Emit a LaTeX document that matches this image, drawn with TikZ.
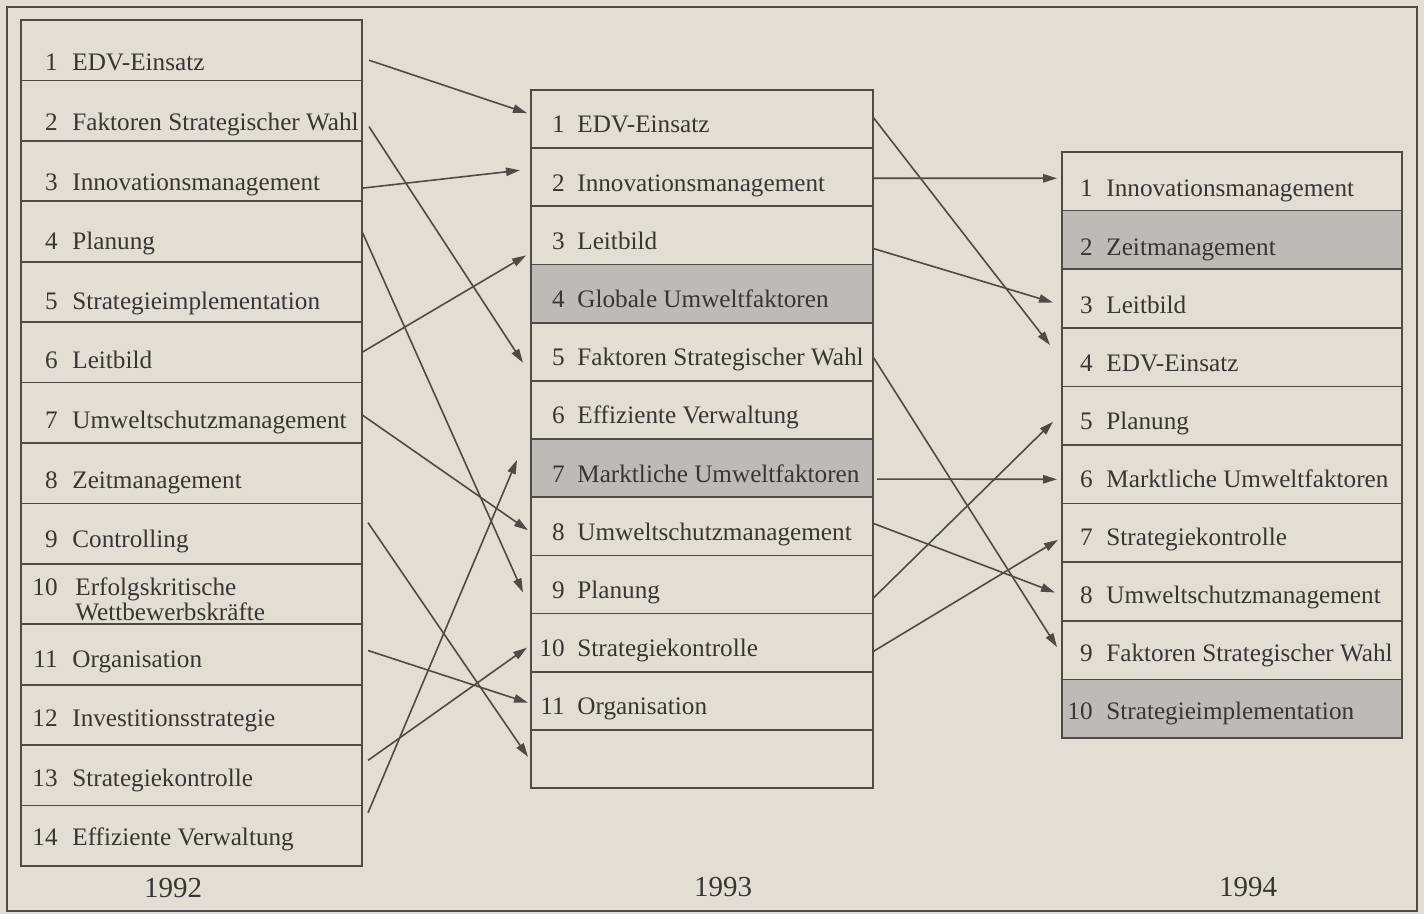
\documentclass[tikz,border=0pt]{standalone}
\usepackage{fontspec}
\setmainfont{Liberation Serif}
\usetikzlibrary{arrows.meta, calc}
\definecolor{paper}{HTML}{E1DED3}
\definecolor{ink}{HTML}{4E4B46}
\definecolor{shade}{HTML}{BDBBB5}
\definecolor{print}{HTML}{383633}
\tikzstyle{arrow} = [line width=0.8pt, draw=ink, -{Triangle[length=7pt,width=4.2pt]}]
\tikzstyle{rowbox} = [rectangle, draw=ink, line width=0.85pt, inner sep=0pt, outer sep=0pt]
\tikzstyle{numtext} = [anchor=base east, inner sep=0pt, text=print, font=\fontsize{12.6}{13}\selectfont]
\tikzstyle{itemtext} = [anchor=base west, inner sep=0pt, text=print, font=\fontsize{12.6}{13}\selectfont]
\tikzstyle{yearlabel} = [inner sep=0pt, text=print, font=\fontsize{14.5}{16}\selectfont]

\begin{document}
\begin{tikzpicture}[x=0.5pt, y=-0.5pt]

\useasboundingbox (0,0) rectangle (1424,914);
\fill [paper] (0,0) rectangle (1424,914);
\draw [ink, line width=0.85pt] (7,7) rectangle (1417,911);

% 1992
\foreach \i in {1,...,14}
  \node (old\i) [rowbox, minimum width=170.5pt, minimum height=30.215pt] at (191.5, {20+60.43*(\i-0.5)}) {};
\foreach \i/\txt in {1/EDV-Einsatz, 2/Faktoren Strategischer Wahl, 3/Innovationsmanagement, 4/Planung, 5/Strategieimplementation, 6/Leitbild, 7/Umweltschutzmanagement, 8/Zeitmanagement, 9/Controlling, 11/Organisation, 12/Investitionsstrategie, 13/Strategiekontrolle, 14/Effiziente Verwaltung} {
  \node (oldnum\i) [numtext] at (58, {71+59.6*(\i-1)}) {\i};
  \node (oldtxt\i) [itemtext] at (72, {71+59.6*(\i-1)}) {\txt};
}
\node (oldnum10) [numtext] at (58,595) {10};
\node (oldtxt10) [itemtext] at (75,595) {Erfolgskritische};
\node (oldtxt10b) [itemtext] at (75,620) {Wettbewerbskräfte};

% 1993
\foreach \i/\f in {1/paper, 2/paper, 3/paper, 4/shade, 5/paper, 6/paper, 7/shade, 8/paper, 9/paper, 10/paper, 11/paper, 12/paper}
  \node (mid\i) [rowbox, fill=\f, minimum width=171pt, minimum height=29.085pt] at (702, {90+58.17*(\i-0.5)}) {};
\foreach \i/\txt in {1/EDV-Einsatz, 2/Innovationsmanagement, 3/Leitbild, 4/Globale Umweltfaktoren, 5/Faktoren Strategischer Wahl, 6/Effiziente Verwaltung, 7/Marktliche Umweltfaktoren, 8/Umweltschutzmanagement, 9/Planung, 10/Strategiekontrolle, 11/Organisation} {
  \node (midnum\i) [numtext] at (565, {133+58.17*(\i-1)}) {\i};
  \node (midtxt\i) [itemtext] at (577, {133+58.17*(\i-1)}) {\txt};
}

% 1994
\foreach \i/\f in {1/paper, 2/shade, 3/paper, 4/paper, 5/paper, 6/paper, 7/paper, 8/paper, 9/paper, 10/shade}
  \node (new\i) [rowbox, fill=\f, minimum width=170pt, minimum height=29.3pt] at (1232, {152+58.6*(\i-0.5)}) {};
\foreach \i/\txt in {1/Innovationsmanagement, 2/Zeitmanagement, 3/Leitbild, 4/EDV-Einsatz, 5/Planung, 6/Marktliche Umweltfaktoren, 7/Strategiekontrolle, 8/Umweltschutzmanagement, 9/Faktoren Strategischer Wahl, 10/Strategieimplementation} {
  \node (newnum\i) [numtext] at (1093, {197+58.1*(\i-1)}) {\i};
  \node (newtxt\i) [itemtext] at (1106, {197+58.1*(\i-1)}) {\txt};
}

\node (y92) [yearlabel] at (173,888) {1992};
\node (y93) [yearlabel] at (723,887) {1993};
\node (y94) [yearlabel] at (1248,887) {1994};

% 1992 -> 1993
\draw [arrow] ($(old1.east)+(7,10)$) -- ($(mid1.west)+(-4,-6)$);
\draw [arrow] ($(old2.east)+(7,16)$) -- ($(mid5.west)+(-8,11)$);
\draw [arrow] ($(old3.east)+(1,17)$) -- ($(mid2.west)+(-11,-7)$);
\draw [arrow] (old4.east) -- ($(mid9.west)+(-8,8)$);
\draw [arrow] (old6.east) -- ($(mid3.west)+(-5,20)$);
\draw [arrow] ($(old7.east)+(0,2)$) -- ($(mid8.west)+(-3,4)$);
\draw [arrow] ($(old9.east)+(6,-11)$) -- ($(mid12.west)+(-3,-2)$);
\draw [arrow] ($(old11.east)+(6,-4)$) -- ($(mid11.west)+(-3,2)$);
\draw [arrow] ($(old13.east)+(6,-15)$) -- ($(mid10.west)+(-4,5)$);
\draw [arrow] ($(old14.east)+(6,-23)$) -- ($(mid6.west)+(-14,50)$);

% 1993 -> 1994
\draw [arrow] ($(mid1.east)+(0,-2)$) -- ($(new4.west)+(-12,-12)$);
\draw [arrow] ($(mid2.east)+(0,1)$) -- ($(new1.west)+(-5,-3)$);
\draw [arrow] ($(mid3.east)+(0,13)$) -- ($(new3.west)+(-9,4)$);
\draw [arrow] ($(mid5.east)+(0,5)$) -- ($(new9.west)+(-5,-3)$);
\draw [arrow] ($(mid7.east)+(4,11)$) -- ($(new6.west)+(-5,5)$);
\draw [arrow] ($(mid8.east)+(0,-3)$) -- ($(new8.west)+(-7,1)$);
\draw [arrow] ($(mid9.east)+(0,14)$) -- ($(new5.west)+(-9,6)$);
\draw [arrow] ($(mid10.east)+(0,9)$) -- ($(new7.west)+(-4,7)$);

\end{tikzpicture}
\end{document}
